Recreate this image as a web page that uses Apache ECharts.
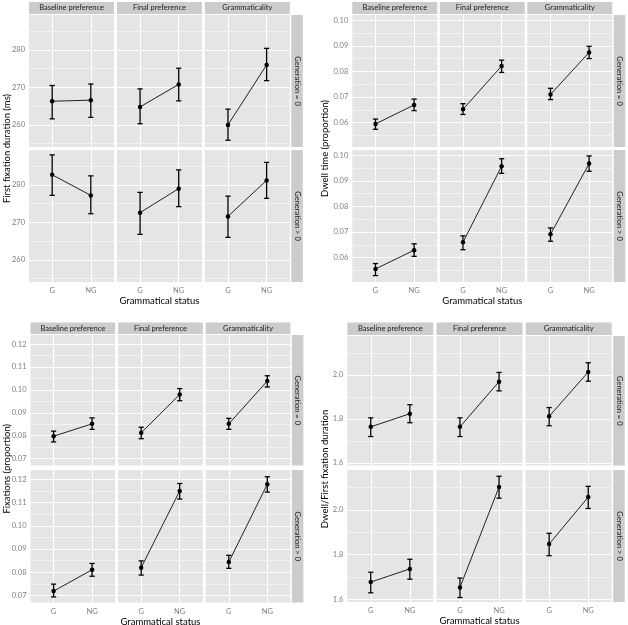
<!DOCTYPE html>
<html>
<head>
<meta charset="utf-8">
<script src="https://cdn.jsdelivr.net/npm/echarts@6/dist/echarts.min.js"></script>
<style>
  html, body { margin: 0; padding: 0; background: #fff; }
  #chart { width: 628px; height: 625px; }
</style>
</head>
<body>
<div id="chart"></div>
<script>
// facets
const conditions = ['Baseline preference', 'Final preference', 'Grammaticality']
const generations = ['Generation = 0', 'Generation > 0']
const statuses = ['G', 'NG']

// values: Baseline G, Baseline NG, Final G, Final NG, Gram G, Gram NG
// first fixation duration (ms)
const ffdMean0 = [266.3, 266.6, 264.8, 270.8, 260.0, 276.0]
const ffdLow0 = [261.6, 262.0, 260.3, 266.4, 255.9, 271.8]
const ffdHigh0 = [270.5, 270.9, 269.6, 275.1, 264.2, 280.4]
const ffdMean1 = [282.7, 277.2, 272.6, 279.0, 271.6, 281.2]
const ffdLow1 = [277.2, 272.3, 266.8, 274.2, 266.0, 276.4]
const ffdHigh1 = [288.0, 282.4, 278.0, 284.0, 277.0, 286.0]
const ffdTicks = [260, 270, 280]
const ffdMinor = [255, 265, 275, 285]

// dwell time (proportion)
const dwellMean0 = [0.0595, 0.0669, 0.0652, 0.0821, 0.0710, 0.0874]
const dwellLow0 = [0.0574, 0.0647, 0.0632, 0.0796, 0.0690, 0.0850]
const dwellHigh0 = [0.0614, 0.0692, 0.0674, 0.0844, 0.0734, 0.0898]
const dwellMean1 = [0.0556, 0.0629, 0.0660, 0.0957, 0.0691, 0.0967]
const dwellLow1 = [0.0530, 0.0605, 0.0631, 0.0929, 0.0664, 0.0937]
const dwellHigh1 = [0.0577, 0.0654, 0.0685, 0.0986, 0.0716, 0.0997]
const dwellTicks = [0.06, 0.07, 0.08, 0.09, 0.10]
const dwellMinor = [0.055, 0.065, 0.075, 0.085, 0.095]

// fixations (proportion)
const fixMean0 = [0.0798, 0.0852, 0.0813, 0.0980, 0.0852, 0.1039]
const fixLow0 = [0.0773, 0.0828, 0.0787, 0.0953, 0.0828, 0.1013]
const fixHigh0 = [0.0820, 0.0878, 0.0837, 0.1006, 0.0876, 0.1062]
const fixMean1 = [0.0719, 0.0811, 0.0820, 0.1150, 0.0844, 0.1179]
const fixLow1 = [0.0694, 0.0783, 0.0788, 0.1115, 0.0817, 0.1145]
const fixHigh1 = [0.0749, 0.0838, 0.0849, 0.1182, 0.0873, 0.1211]
const fixTicks = [0.07, 0.08, 0.09, 0.10, 0.11, 0.12]
const fixMinor = [0.075, 0.085, 0.095, 0.105, 0.115]

// dwell / first fixation duration
const ratioMean0 = [1.764, 1.824, 1.764, 1.970, 1.812, 2.014]
const ratioLow0 = [1.720, 1.783, 1.720, 1.928, 1.769, 1.972]
const ratioHigh0 = [1.805, 1.865, 1.805, 2.012, 1.852, 2.056]
const ratioMean1 = [1.677, 1.736, 1.653, 2.102, 1.847, 2.057]
const ratioLow1 = [1.629, 1.690, 1.608, 2.052, 1.795, 2.006]
const ratioHigh1 = [1.721, 1.779, 1.695, 2.150, 1.895, 2.105]
const ratioTicks = [1.6, 1.8, 2.0]
const ratioMinor = [1.7, 1.9, 2.1]

const FONT = 'Lato, "Open Sans", sans-serif'
const PANEL_BG = '#E5E5E5'
const STRIP_BG = '#CCCCCC'
const MAJOR = '#FFFFFF'
const MINOR = '#F2F2F2'

const panels = [
  {
    title: 'First fixation duration (ms)',
    mean: [ffdMean0, ffdMean1], low: [ffdLow0, ffdLow1], high: [ffdHigh0, ffdHigh1],
    ticks: ffdTicks, minor: ffdMinor, range: [254.1, 289.3], fmt: v => String(Math.round(v)),
    layout: { x0: 29, colW: 85, step: 87.9, stripTop: 2, rows: [[15, 147], [150, 282]], titleX: 7 }
  },
  {
    title: 'Dwell time (proportion)',
    mean: [dwellMean0, dwellMean1], low: [dwellLow0, dwellLow1], high: [dwellHigh0, dwellHigh1],
    ticks: dwellTicks, minor: dwellMinor, range: [0.0505, 0.102], fmt: v => v.toFixed(2),
    layout: { x0: 352.3, colW: 85, step: 87.5, stripTop: 2, rows: [[15, 147], [150, 282]], titleX: 325 }
  },
  {
    title: 'Fixations (proportion)',
    mean: [fixMean0, fixMean1], low: [fixLow0, fixLow1], high: [fixHigh0, fixHigh1],
    ticks: fixTicks, minor: fixMinor, range: [0.067, 0.124], fmt: v => v.toFixed(2),
    layout: { x0: 30.5, colW: 84.7, step: 87.6, stripTop: 322.5, rows: [[335, 465.5], [470, 602.5]], titleX: 7 }
  },
  {
    title: 'Dwell/First fixation duration',
    mean: [ratioMean0, ratioMean1], low: [ratioLow0, ratioLow1], high: [ratioHigh0, ratioHigh1],
    ticks: ratioTicks, minor: ratioMinor, range: [1.588, 2.178], fmt: v => v.toFixed(1),
    layout: { x0: 347.3, colW: 86, step: 89.2, stripTop: 322.5, rows: [[336, 465.5], [470, 602]], titleX: 325 }
  }
]

const errorBar = (params, api) => {
  const x = api.value(0)
  const lo = api.coord([x, api.value(1)])
  const hi = api.coord([x, api.value(2)])
  const hw = 2.6
  const st = { stroke: '#000', lineWidth: 1.3 }
  return {
    type: 'group',
    children: [
      { type: 'line', shape: { x1: lo[0], y1: lo[1], x2: hi[0], y2: hi[1] }, style: st },
      { type: 'line', shape: { x1: lo[0] - hw, y1: lo[1], x2: lo[0] + hw, y2: lo[1] }, style: st },
      { type: 'line', shape: { x1: hi[0] - hw, y1: hi[1], x2: hi[0] + hw, y2: hi[1] }, style: st }
    ]
  }
}

const grids = [], xAxes = [], yAxes = [], series = [], graphics = []

panels.forEach(p => {
  const L = p.layout
  const gridVals = [...p.ticks, ...p.minor].sort((a, b) => a - b)
  const lineColors = p.minor.includes(gridVals[0]) ? [MINOR, MAJOR] : [MAJOR, MINOR]

  L.rows.forEach((row, r) => {
    conditions.forEach((cond, c) => {
      const gi = grids.length
      grids.push({
        left: L.x0 + c * L.step, top: row[0], width: L.colW, height: row[1] - row[0],
        show: true, backgroundColor: PANEL_BG, borderWidth: 0
      })
      xAxes.push({
        gridIndex: gi, type: 'value', min: 0.4, max: 2.6,
        axisLine: { show: false },
        axisTick: { show: false, customValues: [1, 2] },
        axisLabel: {
          show: r === 1, customValues: [1, 2], formatter: v => statuses[Math.round(v) - 1],
          color: '#7F7F7F', fontSize: 7.5, fontFamily: FONT, margin: 5
        },
        splitLine: { show: true, lineStyle: { color: MAJOR, width: 1 } }
      })
      yAxes.push({
        gridIndex: gi, type: 'value', min: p.range[0], max: p.range[1],
        axisLine: { show: false },
        axisTick: { show: false, customValues: gridVals },
        axisLabel: {
          show: c === 0, customValues: p.ticks, formatter: p.fmt,
          color: '#7F7F7F', fontSize: 7.5, fontFamily: FONT, margin: 4
        },
        splitLine: { show: true, lineStyle: { color: lineColors, width: 1 } }
      })
      const k = c * 2
      series.push({
        type: 'custom', xAxisIndex: gi, yAxisIndex: gi, renderItem: errorBar,
        encode: { x: 0, y: [1, 2] }, z: 2,
        data: statuses.map((s, i) => [i + 1, p.low[r][k + i], p.high[r][k + i]])
      })
      series.push({
        type: 'line', xAxisIndex: gi, yAxisIndex: gi, z: 3,
        symbol: 'circle', symbolSize: 4.5,
        itemStyle: { color: '#000' }, lineStyle: { color: '#222', width: 1 },
        data: statuses.map((s, i) => [i + 1, p.mean[r][k + i]])
      })
    })
    // right strip
    const sx = L.x0 + 2 * L.step + L.colW + 1.5
    graphics.push({ type: 'rect', shape: { x: sx, y: row[0], width: 11.5, height: row[1] - row[0] }, style: { fill: STRIP_BG } })
    graphics.push({
      type: 'text', x: sx + 5.9, y: (row[0] + row[1]) / 2, rotation: -Math.PI / 2,
      style: { text: generations[r], align: 'center', verticalAlign: 'middle', fill: '#1A1A1A', fontSize: 7.5, fontFamily: FONT }
    })
  })

  // top strips
  const stripH = L.rows[0][0] - L.stripTop - 1
  conditions.forEach((cond, c) => {
    const sx = L.x0 + c * L.step
    graphics.push({ type: 'rect', shape: { x: sx, y: L.stripTop, width: L.colW, height: stripH }, style: { fill: STRIP_BG } })
    graphics.push({
      type: 'text', x: sx + L.colW / 2, y: L.stripTop + stripH / 2,
      style: { text: cond, align: 'center', verticalAlign: 'middle', fill: '#1A1A1A', fontSize: 7.5, fontFamily: FONT }
    })
  })

  // axis titles
  const bottom = L.rows[1][1]
  graphics.push({
    type: 'text', x: L.titleX, y: (L.rows[0][0] + bottom) / 2, rotation: Math.PI / 2,
    style: { text: p.title, align: 'center', verticalAlign: 'middle', fill: '#000', fontSize: 9.5, fontFamily: FONT }
  })
  graphics.push({
    type: 'text', x: L.x0 + (2 * L.step + L.colW) / 2, y: bottom + 19,
    style: { text: 'Grammatical status', align: 'center', verticalAlign: 'middle', fill: '#000', fontSize: 9.5, fontFamily: FONT }
  })
})

const chart = echarts.init(document.getElementById('chart'))
chart.setOption({
  animation: false,
  backgroundColor: '#fff',
  grid: grids,
  xAxis: xAxes,
  yAxis: yAxes,
  series: series,
  graphic: graphics
})
</script>
</body>
</html>
